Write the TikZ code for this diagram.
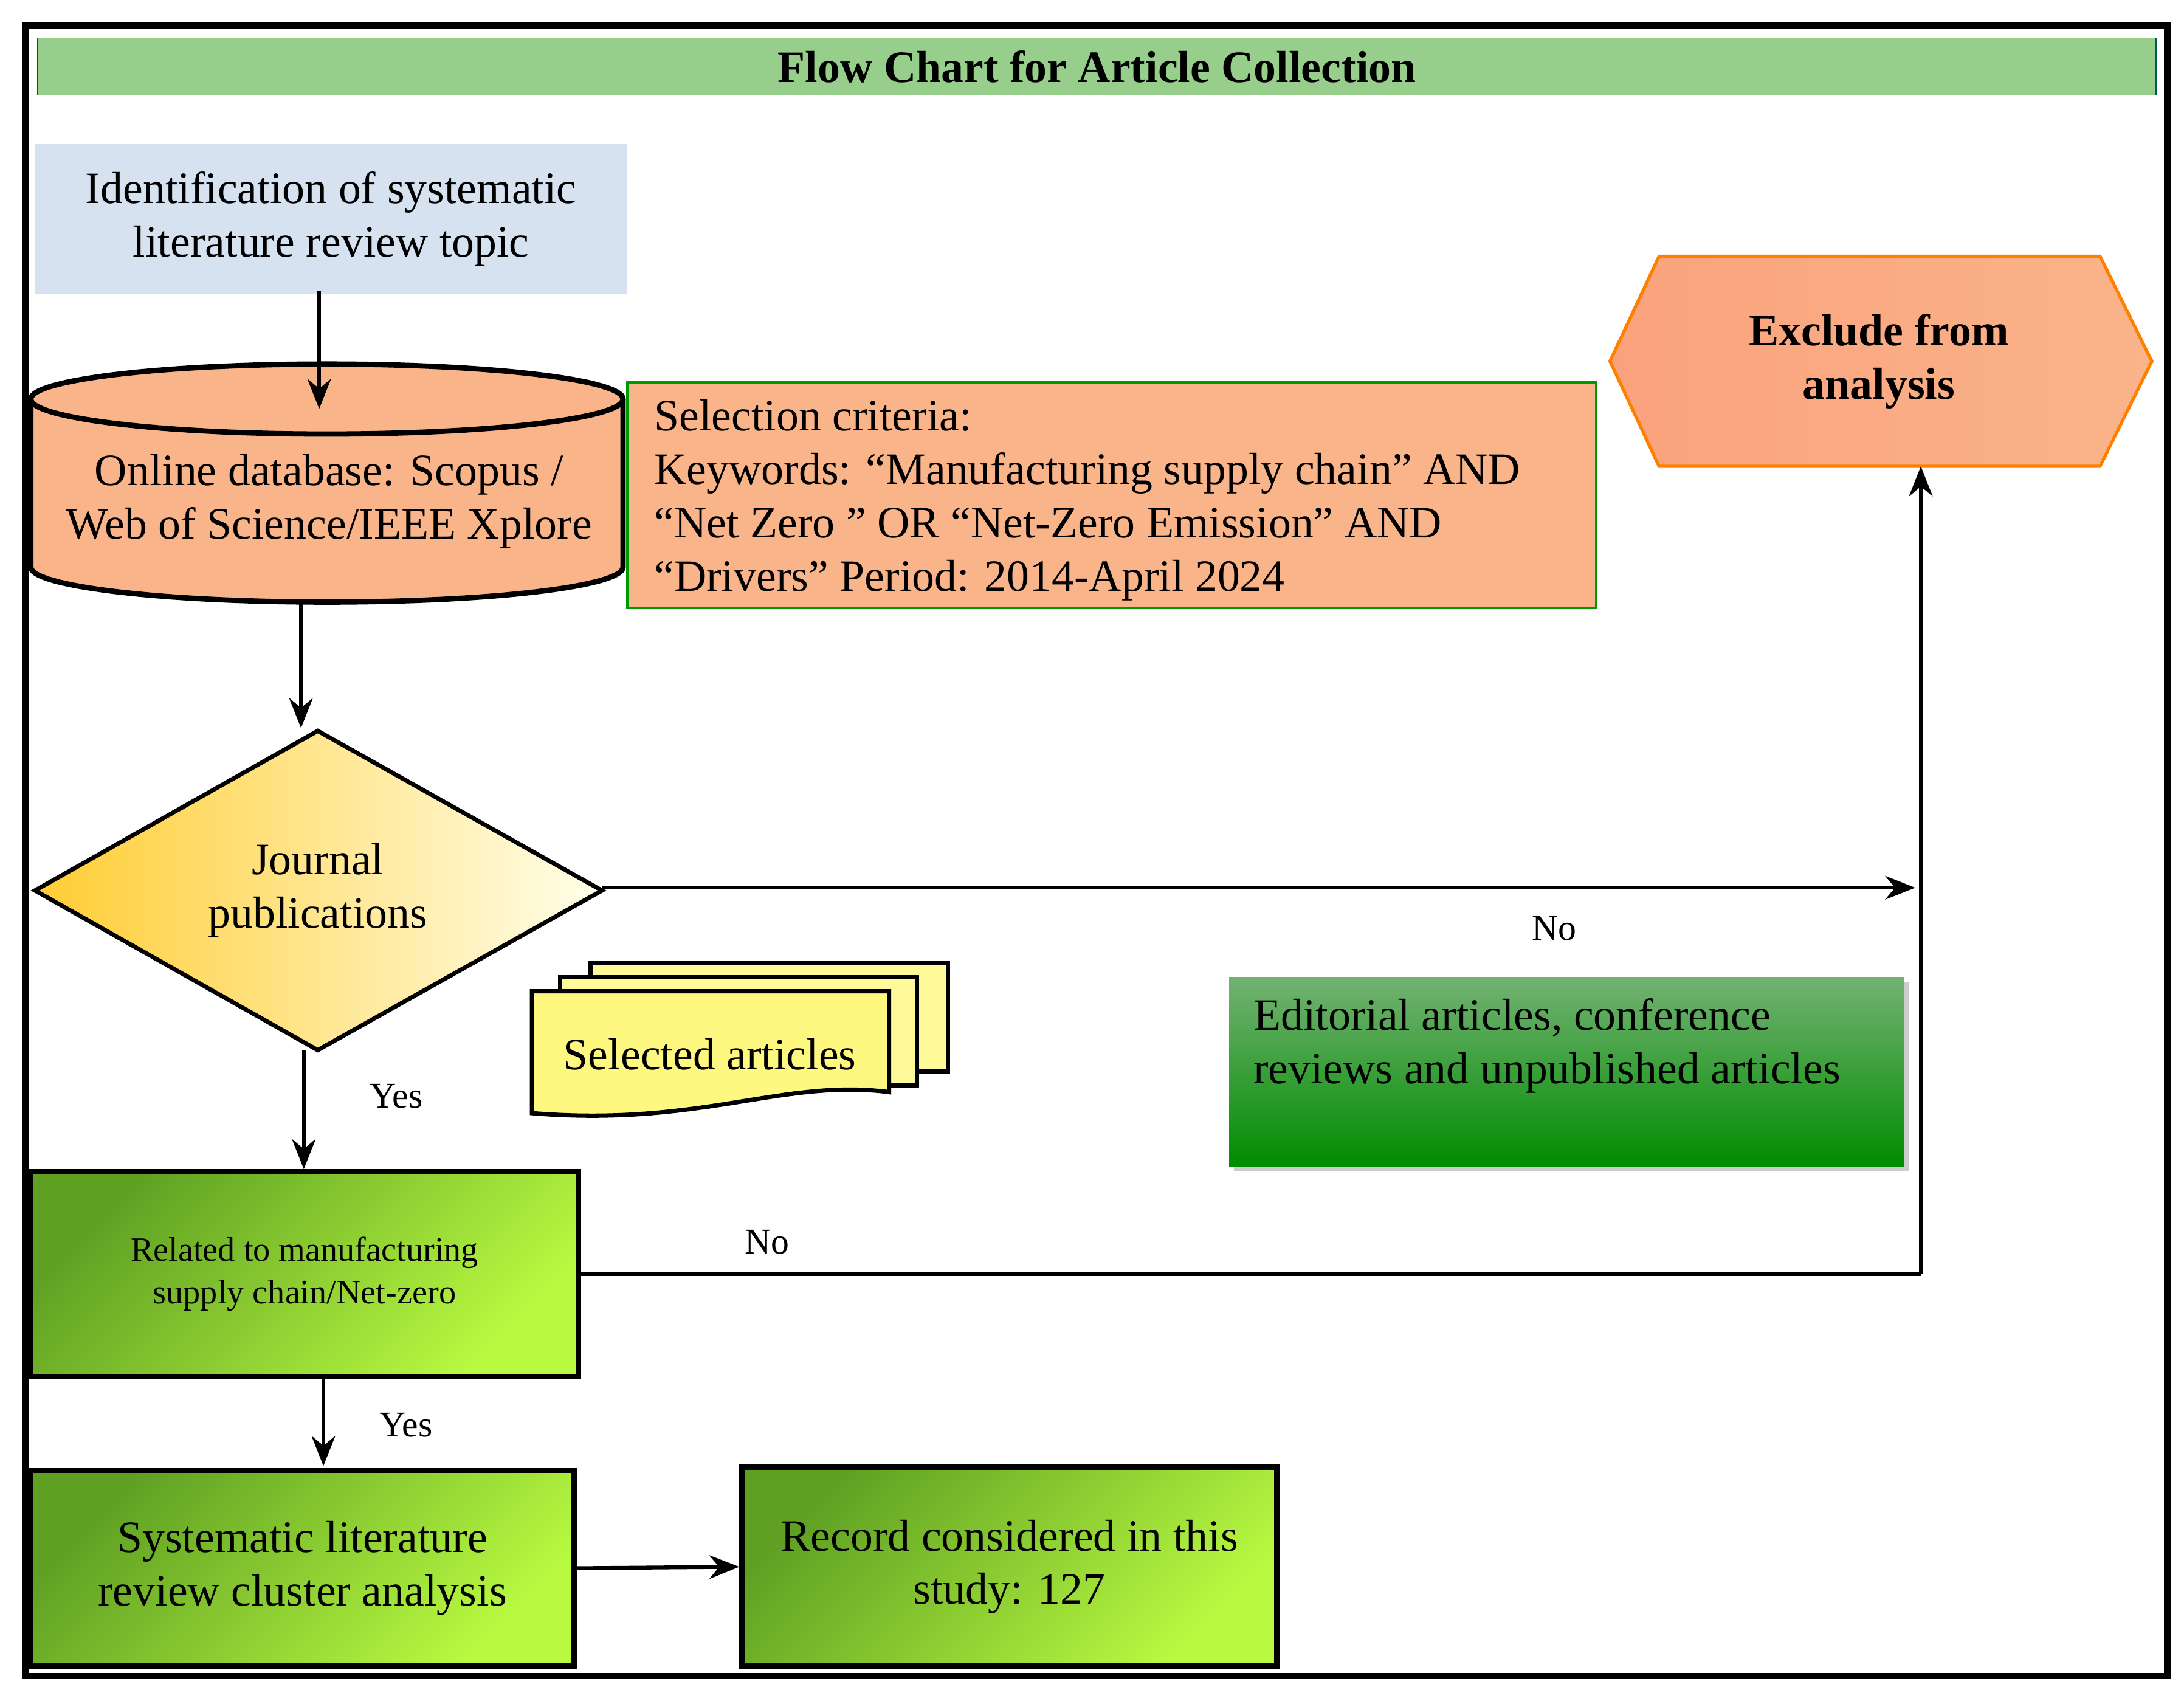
\documentclass[tikz,border=0pt]{standalone}
\usepackage{fontspec}
\setmainfont{Liberation Serif}
\usetikzlibrary{shapes.geometric,arrows.meta,shadows}
\definecolor{titleg}{RGB}{152,206,140}
\definecolor{lblue}{RGB}{214,226,240}
\definecolor{orng}{RGB}{250,180,138}
\definecolor{dkg}{RGB}{95,160,35}
\definecolor{ltg}{RGB}{185,250,65}
\tikzset{
 txt/.style={font=\fontsize{21}{25}\selectfont,align=center},
 gbox/.style={draw=black,line width=2.5pt,left color=dkg,right color=ltg,shading angle=45,txt},
 arr/.style={line width=1.8pt,-{Stealth[length=14pt,width=11pt]}},
 ln/.style={line width=1.8pt},
}
\begin{document}
\begin{tikzpicture}[x=0.02303cm,y=-0.02303cm]
\useasboundingbox (0,0) rectangle (1560,1207);
\fill[white] (0,0) rectangle (1560,1207);
\draw[line width=3pt] (18,18) rectangle (1548,1197);
\node[fill=titleg,draw=teal!70!black,minimum width=1513*0.02303cm,minimum height=41*0.02303cm,font=\bfseries\fontsize{21}{25}\selectfont] (title) at (783.5,47.5) {Flow Chart for Article Collection};
\node[fill=lblue,minimum width=423*0.02303cm,minimum height=107*0.02303cm,txt] (topic) at (236.5,156.5) {Identification of systematic\\literature review topic};
% cylinder
\fill[orng] (22,285) -- (22,405) arc[start angle=180,end angle=0,x radius=211.5,y radius=25] -- (445,285) -- cycle;
\draw[line width=2.5pt] (22,285) -- (22,405) arc[start angle=180,end angle=0,x radius=211.5,y radius=25] -- (445,285);
\draw[line width=2.5pt,fill=orng] (233.5,285) ellipse[x radius=211.5,y radius=25];
\node[txt] (db) at (235,358) {Online database: Scopus /\\Web of Science/IEEE Xplore};
\coordinate (cyltop) at (228,292);
\coordinate (cylbot) at (215,430);
\draw[arr] (228,208) -- (cyltop);
\node[fill=orng,draw=green!60!black,line width=1pt,minimum width=692*0.02303cm,minimum height=161*0.02303cm] (crit) at (794,353.5) {};
\node[font=\fontsize{21}{25}\selectfont,align=left,anchor=north west,inner sep=0pt] at (467,285) {Selection criteria:\\Keywords: “Manufacturing supply chain” AND\\“Net Zero ” OR “Net-Zero Emission” AND\\“Drivers” Period: 2014-April 2024};
% hexagon
\shade[left color=orng!90!red,right color=orng,draw=orange,line width=1.5pt] (1150,258) -- (1185,183) -- (1500,183) -- (1537,258) -- (1500,333) -- (1185,333) -- cycle;
\node[txt,font=\bfseries\fontsize{21}{25}\selectfont] (excl) at (1342,258) {Exclude from\\analysis};
\coordinate (exbot) at (1372,333);
% diamond
\shade[left color=orange!50!yellow!80,right color=yellow!8,draw=black,line width=2pt] (25,636) -- (227,522) -- (430,636) -- (227,750) -- cycle;
\node[txt] (jp) at (227,636) {Journal\\publications};
\coordinate (dtop) at (215,520);
\draw[arr] (cylbot) -- (dtop);
\coordinate (dright) at (430,634);
\coordinate (corner1) at (1368,634);
\draw[arr] (dright) -- (corner1);
\node[font=\fontsize{17}{20}\selectfont] (no1) at (1110,663) {No};
% selected articles
\draw[fill=yellow!40,line width=2pt] (422,688) rectangle (677,765);
\draw[fill=yellow!40,line width=2pt] (400,698) rectangle (655,775);
\draw[fill=yellow!50,line width=2pt] (380,708) -- (635,708) -- (635,780) .. controls (560,770) and (500,805) .. (380,795) -- cycle;
\node[txt] (sel) at (507,753) {Selected articles};
% editorial
\node[top color=green!45!black!55!white,bottom color=green!55!black,drop shadow={opacity=0.4},minimum width=482*0.02303cm,minimum height=135*0.02303cm] (ed) at (1119,765.5) {};
\node[font=\fontsize{21}{25}\selectfont,align=left,anchor=north west,inner sep=0pt] at (895,713) {Editorial articles, conference\\reviews and unpublished articles};
% related
\node[gbox,minimum width=391*0.02303cm,minimum height=146*0.02303cm,font=\fontsize{16}{20}\selectfont] (rel) at (217.5,910) {Related to manufacturing\\supply chain/Net-zero};
\coordinate (dbot) at (217,750);
\draw[arr] (dbot) -- (217,835);
\node[font=\fontsize{17}{20}\selectfont] (yes1) at (283,783) {Yes};
\coordinate (corner2) at (1372,910);
\draw[ln] (rel.east) -- (corner2);
\draw[arr] (corner2) -- (exbot);
\node[font=\fontsize{17}{20}\selectfont] (no2) at (548,887) {No};
% bottom
\node[gbox,minimum width=388*0.02303cm,minimum height=140*0.02303cm] (slr) at (216,1120) {Systematic literature\\review cluster analysis};
\node[gbox,minimum width=382*0.02303cm,minimum height=142*0.02303cm] (rec) at (721,1119) {Record considered in this\\study: 127};
\draw[arr] (231,983) -- (231,1047);
\node[font=\fontsize{17}{20}\selectfont] (yes2) at (290,1018) {Yes};
\draw[arr] (slr.east) -- (rec.west);
\end{tikzpicture}
\end{document}
